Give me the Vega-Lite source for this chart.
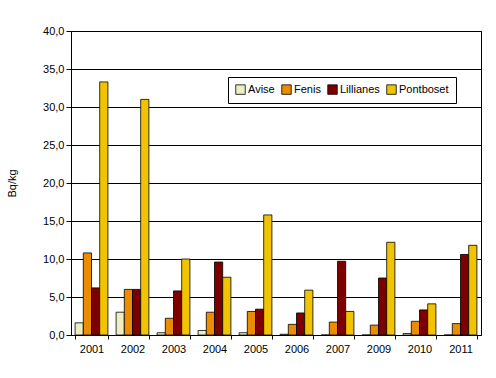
{
  "$schema": "https://vega.github.io/schema/vega-lite/v6.json",
  "width": 410,
  "height": 304,
  "autosize": {"type": "none"},
  "padding": {"left": 71, "top": 31, "right": 15, "bottom": 43},
  "background": "white",
  "config": {
    "font": "Liberation Sans",
    "view": {"stroke": "black", "strokeWidth": 1}
  },
  "data": {
    "values": [
      {"year": "2001", "site": "Avise", "v": 1.6},
      {"year": "2001", "site": "Fenis", "v": 10.8},
      {"year": "2001", "site": "Lillianes", "v": 6.2},
      {"year": "2001", "site": "Pontboset", "v": 33.3},
      {"year": "2002", "site": "Avise", "v": 3.0},
      {"year": "2002", "site": "Fenis", "v": 6.0},
      {"year": "2002", "site": "Lillianes", "v": 6.0},
      {"year": "2002", "site": "Pontboset", "v": 31.0},
      {"year": "2003", "site": "Avise", "v": 0.3},
      {"year": "2003", "site": "Fenis", "v": 2.2},
      {"year": "2003", "site": "Lillianes", "v": 5.8},
      {"year": "2003", "site": "Pontboset", "v": 10.0},
      {"year": "2004", "site": "Avise", "v": 0.6},
      {"year": "2004", "site": "Fenis", "v": 3.0},
      {"year": "2004", "site": "Lillianes", "v": 9.6},
      {"year": "2004", "site": "Pontboset", "v": 7.6},
      {"year": "2005", "site": "Avise", "v": 0.3},
      {"year": "2005", "site": "Fenis", "v": 3.1},
      {"year": "2005", "site": "Lillianes", "v": 3.4},
      {"year": "2005", "site": "Pontboset", "v": 15.8},
      {"year": "2006", "site": "Avise", "v": 0.1},
      {"year": "2006", "site": "Fenis", "v": 1.4},
      {"year": "2006", "site": "Lillianes", "v": 2.9},
      {"year": "2006", "site": "Pontboset", "v": 5.9},
      {"year": "2007", "site": "Avise", "v": 0},
      {"year": "2007", "site": "Fenis", "v": 1.7},
      {"year": "2007", "site": "Lillianes", "v": 9.7},
      {"year": "2007", "site": "Pontboset", "v": 3.1},
      {"year": "2009", "site": "Avise", "v": 0},
      {"year": "2009", "site": "Fenis", "v": 1.3},
      {"year": "2009", "site": "Lillianes", "v": 7.5},
      {"year": "2009", "site": "Pontboset", "v": 12.2},
      {"year": "2010", "site": "Avise", "v": 0.2},
      {"year": "2010", "site": "Fenis", "v": 1.8},
      {"year": "2010", "site": "Lillianes", "v": 3.3},
      {"year": "2010", "site": "Pontboset", "v": 4.1},
      {"year": "2011", "site": "Avise", "v": 0},
      {"year": "2011", "site": "Fenis", "v": 1.5},
      {"year": "2011", "site": "Lillianes", "v": 10.6},
      {"year": "2011", "site": "Pontboset", "v": 11.8}
    ]
  },
  "mark": {"type": "bar", "stroke": "black", "strokeWidth": 0.8},
  "encoding": {
    "x": {
      "field": "year", "type": "nominal",
      "scale": {"paddingInner": 0.2, "paddingOuter": 0.1},
      "axis": {
        "title": null, "labelAngle": 0, "labelFontSize": 11, "labelColor": "black",
        "domainColor": "black", "tickColor": "black", "tickBand": "extent", "tickSize": 4,
        "labelPadding": 4
      }
    },
    "xOffset": {"field": "site", "type": "nominal", "sort": ["Avise", "Fenis", "Lillianes", "Pontboset"]},
    "y": {
      "field": "v", "type": "quantitative",
      "scale": {"domain": [0, 40], "nice": false},
      "axis": {
        "title": "Bq/kg", "titleFontWeight": "normal", "titleFontSize": 11, "titleColor": "black",
        "titlePadding": 25,
        "values": [0, 5, 10, 15, 20, 25, 30, 35, 40],
        "labelExpr": "replace(format(datum.value, '.1f'), '.', ',')",
        "labelFontSize": 11, "labelColor": "black",
        "grid": true, "gridColor": "black", "gridOpacity": 1, "gridWidth": 1,
        "domainColor": "black", "tickColor": "black", "tickSize": 5
      }
    },
    "color": {
      "field": "site", "type": "nominal",
      "sort": ["Avise", "Fenis", "Lillianes", "Pontboset"],
      "scale": {
        "domain": ["Avise", "Fenis", "Lillianes", "Pontboset"],
        "range": ["#eeeec4", "#ec8c00", "#7c0000", "#f2c400"]
      },
      "legend": {
        "title": null, "orient": "none", "legendX": 157, "legendY": 46,
        "direction": "horizontal", "columns": 4,
        "strokeColor": "black", "padding": 7,
        "symbolType": "square", "symbolSize": 90, "symbolStrokeColor": "black", "symbolStrokeWidth": 0.8,
        "symbolOpacity": 1,
        "labelFontSize": 11, "labelColor": "black", "labelOffset": 2, "columnPadding": 5
      }
    }
  }
}
